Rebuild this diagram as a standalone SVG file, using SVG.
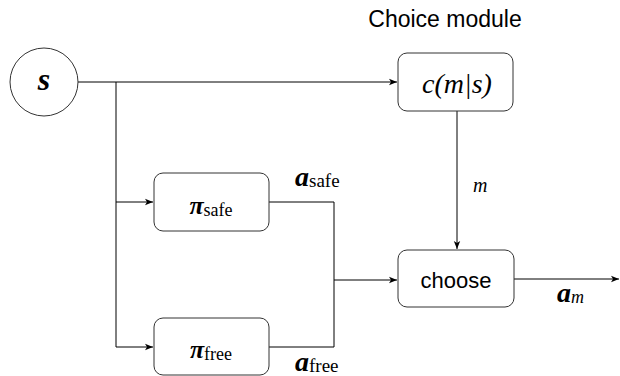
<svg xmlns="http://www.w3.org/2000/svg" width="620" height="376" viewBox="0 0 620 376">
<style>
.box{fill:#fff;stroke:#333;stroke-width:1}
.ln{fill:none;stroke:#000;stroke-width:1}
.math{font-family:"Liberation Serif","Times New Roman",serif;font-style:italic;fill:#000}
.mb{font-weight:bold}
.sub{font-style:normal;font-weight:normal}
.sans{font-family:"Liberation Sans",Arial,sans-serif;fill:#000}
</style>
<defs>
<marker id="arr" viewBox="0 0 10 10" refX="10" refY="5" markerWidth="8" markerHeight="8" markerUnits="userSpaceOnUse" orient="auto">
<path d="M0,1 L10,5 L0,9 L2.5,5 z" fill="#000"/>
</marker>
</defs>
<g id="connectors">
<line class="ln" x1="78" y1="82" x2="397" y2="82" marker-end="url(#arr)"/>
<polyline class="ln" points="116,82 116,347"/>
<line class="ln" x1="116" y1="202" x2="153" y2="202" marker-end="url(#arr)"/>
<line class="ln" x1="116" y1="347" x2="153" y2="347" marker-end="url(#arr)"/>
<polyline class="ln" points="269,202 334,202 334,347 269,347"/>
<line class="ln" x1="334" y1="280" x2="397" y2="280" marker-end="url(#arr)"/>
<line class="ln" x1="457" y1="111" x2="457" y2="249" marker-end="url(#arr)"/>
<line class="ln" x1="514" y1="279" x2="619" y2="279" marker-end="url(#arr)"/>
<text class="math" x="473" y="192" font-size="20">m</text>
<text class="math mb" x="295" y="186" font-size="28">a<tspan class="sub" font-size="19" dy="1">safe</tspan></text>
<text class="math mb" x="295" y="371" font-size="28">a<tspan class="sub" font-size="19" dy="1">free</tspan></text>
<text class="math mb" x="557" y="302" font-size="28">a<tspan font-weight="normal" font-size="18" dy="1">m</tspan></text>
</g>
<g id="node-s">
<circle cx="44" cy="82" r="34" fill="#fff" stroke="#333" stroke-width="1"/>
<text class="math mb" x="44" y="90" font-size="32" text-anchor="middle">s</text>
</g>
<g id="node-c">
<text class="sans" x="445" y="27" font-size="23" text-anchor="middle">Choice module</text>
<rect class="box" x="398" y="53" width="115" height="58" rx="9"/>
<text class="math" x="457" y="93" font-size="28" text-anchor="middle">c(m|s)</text>
</g>
<g id="node-safe">
<rect class="box" x="154" y="173" width="115" height="58" rx="9"/>
<text class="math mb" x="211" y="214" font-size="26" text-anchor="middle">π<tspan class="sub" font-size="18" dy="2">safe</tspan></text>
</g>
<g id="node-free">
<rect class="box" x="154" y="318" width="115" height="57" rx="9"/>
<text class="math mb" x="211" y="358" font-size="26" text-anchor="middle">π<tspan class="sub" font-size="18" dy="2">free</tspan></text>
</g>
<g id="node-choose">
<rect class="box" x="398" y="250" width="116" height="57" rx="9"/>
<text class="sans" x="456" y="288" font-size="22" text-anchor="middle">choose</text>
</g>
</svg>
